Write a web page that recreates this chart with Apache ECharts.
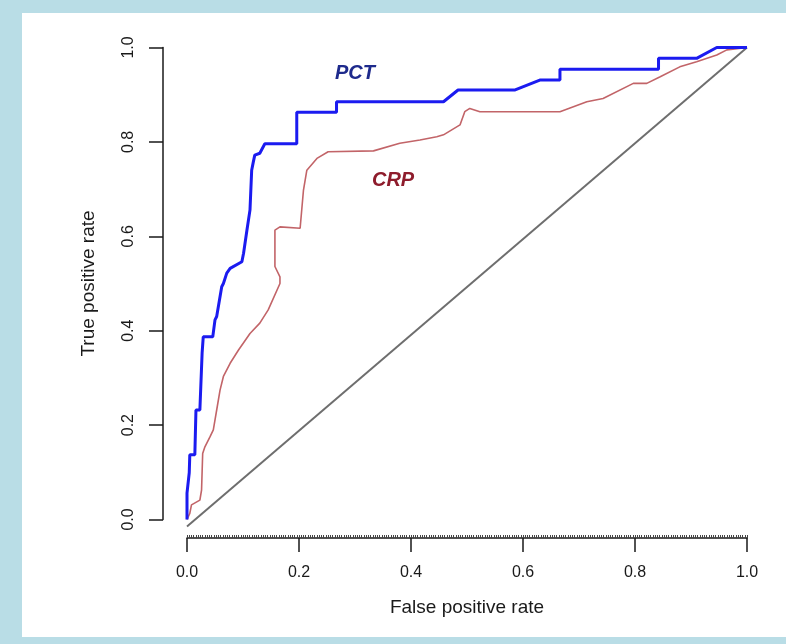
<!DOCTYPE html>
<html><head><meta charset="utf-8">
<script src="https://cdn.jsdelivr.net/npm/echarts@6/dist/echarts.min.js"></script>
<style>
html,body{margin:0;padding:0;background:#b9dde6;}
#frame{position:absolute;left:22px;top:13px;width:764px;height:624px;background:#fff;}
#chart{position:absolute;left:0;top:0;width:786px;height:644px;}
</style></head>
<body><div id="frame"></div><div id="chart"></div>
<script>
const xTicks = [0, 0.2, 0.4, 0.6, 0.8, 1.0];
const yTicks = [0, 0.2, 0.4, 0.6, 0.8, 1.0];
const pctFPR = [0,0,0.004,0.005,0.014,0.016,0.023,0.027,0.029,0.046,0.05,0.053,0.062,0.065,0.071,0.077,0.098,0.101,0.107,0.1125,0.1155,0.118,0.121,0.130,0.139,0.196,0.196,0.267,0.267,0.458,0.484,0.586,0.630,0.666,0.666,0.842,0.842,0.910,0.946,1];
const pctTPR = [0,0.056,0.099,0.137,0.137,0.232,0.232,0.353,0.387,0.387,0.423,0.430,0.493,0.500,0.522,0.532,0.546,0.564,0.613,0.656,0.740,0.755,0.772,0.776,0.796,0.796,0.863,0.863,0.885,0.885,0.910,0.910,0.931,0.931,0.954,0.954,0.977,0.977,1,1];
const crpFPR = [0,0.005,0.008,0.023,0.026,0.028,0.032,0.041,0.047,0.053,0.059,0.065,0.077,0.092,0.1125,0.130,0.145,0.166,0.166,0.157,0.157,0.166,0.202,0.208,0.214,0.232,0.252,0.333,0.380,0.416,0.446,0.458,0.4875,0.496,0.505,0.523,0.666,0.714,0.743,0.797,0.821,0.845,0.880,0.910,0.946,0.964,1];
const crpTPR = [0,0.013,0.031,0.041,0.0625,0.140,0.154,0.175,0.190,0.232,0.274,0.303,0.331,0.359,0.394,0.416,0.444,0.500,0.514,0.536,0.613,0.620,0.617,0.698,0.740,0.765,0.779,0.781,0.797,0.804,0.811,0.815,0.836,0.864,0.871,0.864,0.864,0.885,0.892,0.924,0.924,0.938,0.959,0.970,0.984,0.995,1];
const diagX = [0, 1];
const diagY = [-0.015, 1];
const labelNames = ['PCT', 'CRP'];
const labelX = [0.30, 0.368];
const labelY = [0.946, 0.719];
const labelColors = ['#1e2a8c', '#8e1c2c'];

const zip = (a,b) => a.map((v,i)=>[v,b[i]]);
const chart = echarts.init(document.getElementById('chart'));
const font = 'Liberation Sans, Arial, sans-serif';
chart.setOption({
  animation:false,
  grid:{left:187, right:39, top:47.5, bottom:124.5},
  xAxis:[{
    type:'value', min:0, max:1, interval:0.2, offset:18.5,
    axisLine:{show:true, onZero:false, lineStyle:{color:'#1a1a1a', width:1.5}},
    axisTick:{show:true, length:14, lineStyle:{color:'#1a1a1a', width:1.5}},
    axisLabel:{color:'#1a1a1a', fontSize:16, fontFamily:font, margin:27, formatter:v=>v.toFixed(1)},
    splitLine:{show:false},
    name:'False positive rate', nameLocation:'middle', nameGap:60,
    nameTextStyle:{color:'#1a1a1a', fontSize:19, fontFamily:font}
  },{
    type:'value', min:0, max:1, interval:0.004, offset:18.5, position:'bottom',
    axisLine:{show:false, onZero:false},
    axisTick:{show:true, inside:true, length:3, lineStyle:{color:'#444', width:1}},
    axisLabel:{show:false}, splitLine:{show:false}
  }],
  yAxis:{
    type:'value', min:0, max:1, interval:0.2, offset:24,
    axisLine:{show:true, onZero:false, lineStyle:{color:'#1a1a1a', width:1.5}},
    axisTick:{show:true, length:14, lineStyle:{color:'#1a1a1a', width:1.5}},
    axisLabel:{color:'#1a1a1a', fontSize:16, fontFamily:font, margin:26, rotate:90, formatter:v=>v.toFixed(1)},
    splitLine:{show:false},
    name:'True positive rate', nameLocation:'middle', nameGap:65,
    nameTextStyle:{color:'#1a1a1a', fontSize:19, fontFamily:font}
  },
  series:[
    {type:'line', data:zip(diagX,diagY), symbol:'none', clip:false,
     lineStyle:{color:'#6e6e6e', width:2}},
    {type:'line', data:zip(crpFPR,crpTPR), symbol:'none', clip:false,
     lineStyle:{color:'#c26468', width:1.6}},
    {type:'line', data:zip(pctFPR,pctTPR), symbol:'none', clip:false,
     lineStyle:{color:'#1b1bf0', width:3}},
    {type:'scatter', symbolSize:0, itemStyle:{opacity:1},
     data:labelNames.map((n,i)=>({value:[labelX[i],labelY[i]], name:n,
       label:{color:labelColors[i]}})),
     label:{show:true, opacity:1, position:'inside', formatter:p=>p.name, fontSize:20, fontWeight:'bold', fontStyle:'italic', fontFamily:font}}
  ]
});
</script></body></html>
